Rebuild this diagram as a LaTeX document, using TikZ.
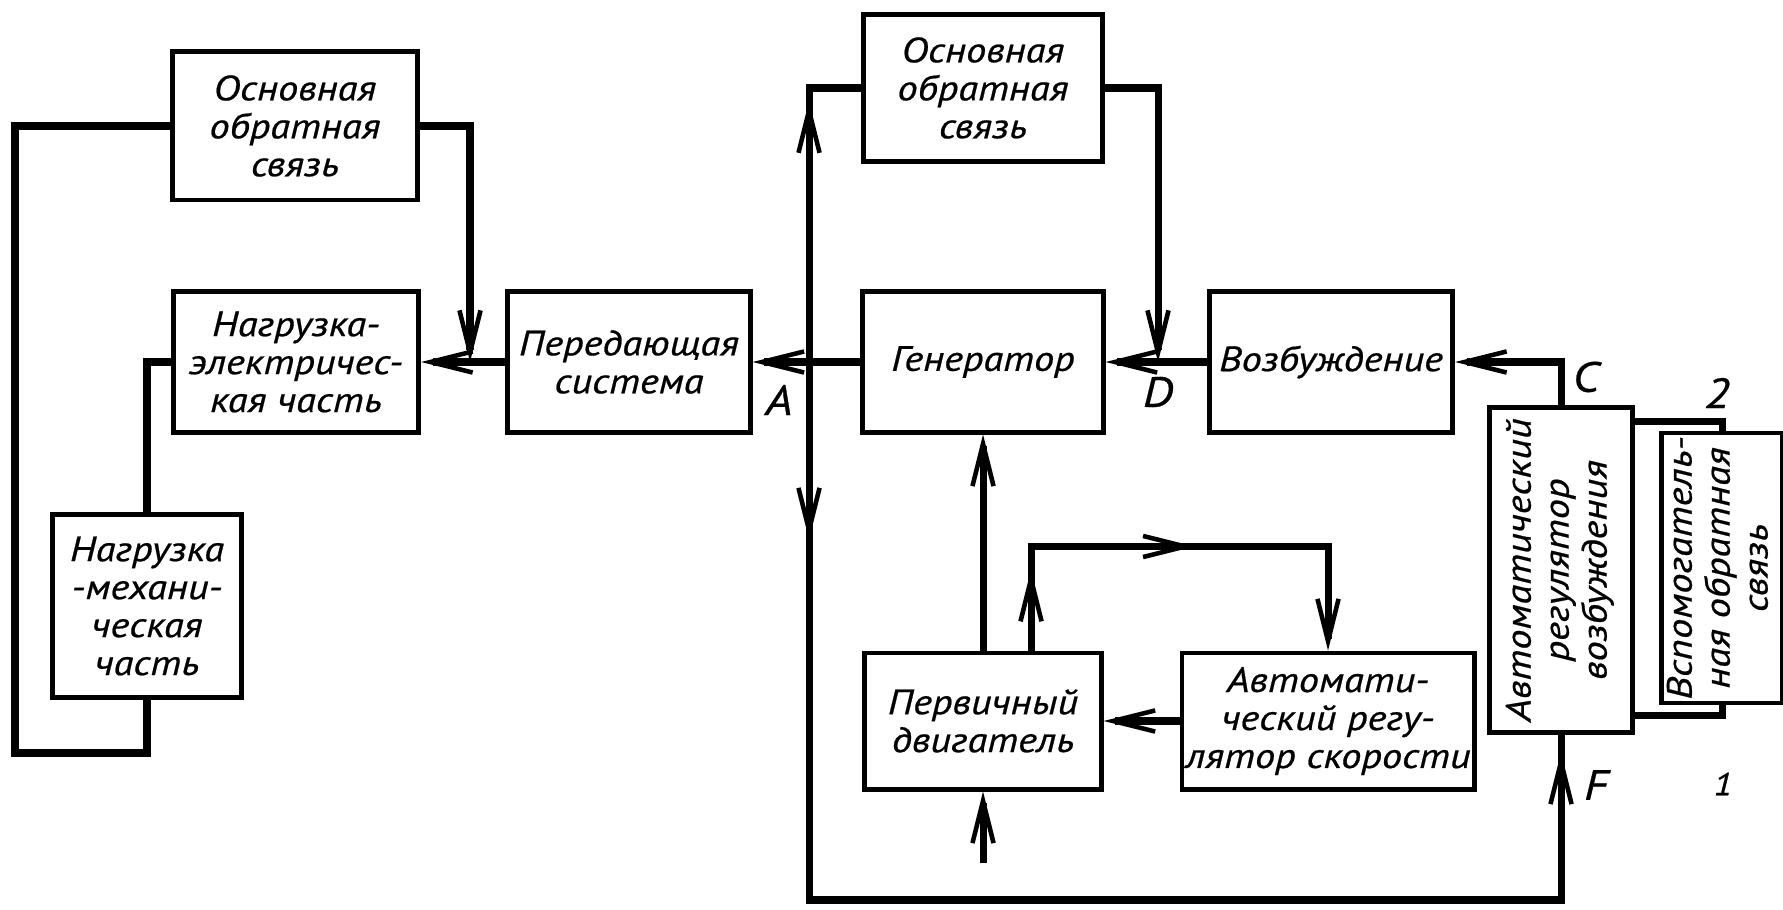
\documentclass[tikz,border=0pt]{standalone}
\usepackage{fontspec}
\usepackage{graphicx}
\newfontfamily\gost{PT Sans}[FakeStretch=1.15,FakeBold=0.6]
\usetikzlibrary{arrows.meta,decorations.markings}
\begin{document}
\begin{tikzpicture}[x=0.01cm,y=-0.01cm,
  >={Straight Barb[length=12pt,width=6pt,line width=1.3pt]},
  block/.style={draw,line width=1.4pt,align=center,inner sep=1pt,
    font=\gost\itshape\fontsize{10}{10.8}\selectfont},
  conn/.style={line width=2pt},
  lab/.style={font=\gost\itshape\fontsize{12}{12}\selectfont},
  midarrow/.style={postaction={decorate,decoration={markings,
    mark=at position #1 with {\arrow{>}}}}}]
\useasboundingbox (0,0) rectangle (1783,910);
% Draw the blocks of the left part
\node[block,minimum width=2.44cm,minimum height=1.48cm] (obsL) at (295,126) {Основная\\обратная\\связь};
\node[block,minimum width=2.45cm,minimum height=1.40cm] (elec) at (296,362) {Нагрузка-\\электричес-\\кая часть};
\node[block,minimum width=1.88cm,minimum height=1.82cm] (mech) at (147,606) {Нагрузка\\-механи-\\ческая\\часть};
\node[block,minimum width=2.42cm,minimum height=1.40cm] (pered) at (629,362) {Передающая\\система};
% Draw the blocks round the generator
\node[block,minimum width=2.39cm,minimum height=1.47cm] (obsR) at (983,88) {Основная\\обратная\\связь};
\node[block,minimum width=2.40cm,minimum height=1.40cm] (gen) at (983,362) {Генератор};
\node[block,minimum width=2.43cm,minimum height=1.40cm] (vozb) at (1331,362) {Возбуждение};
\node[block,minimum width=2.36cm,minimum height=1.36cm] (perv) at (983,721) {Первичный\\двигатель};
\node[block,minimum width=2.53cm,minimum height=1.36cm] (ars) at (1328,721) {Автомати-\\ческий регу-\\лятор скорости};
% The two upright blocks on the right
\node[block,minimum width=1.43cm,minimum height=3.25cm] (arv) at (1561,570)
  {\rotatebox{90}{\begin{tabular}{@{}c@{}}Автоматический\\регулятор\\возбуждения\end{tabular}}};
\node[block,minimum width=1.13cm,minimum height=2.40cm] (vsp) at (1722,568)
  {\rotatebox{90}{\begin{tabular}{@{}c@{}}Вспомогатель-\\ная обратная\\связь\end{tabular}}};
% Junction points
\coordinate (jL) at (470,362);
\coordinate (A) at (809,362);
\coordinate (D) at (1158,362);
\coordinate (pin) at (983,863);
% Left loop
\draw[conn] (obsL.west) -| (15,753) -| (mech.south);
\draw[conn] (elec.west) -| (mech.north);
\draw[conn,->] (obsL.east) -| (jL);
\draw[conn,->] (pered.west) -- (elec.east);
% Main chain
\draw[conn,->] (gen.west) -- (pered.east);
\draw[conn,->] (vozb.west) -- (gen.east);
\draw[conn,->] (obsR.east) -| (D);
\draw[conn,midarrow=0.8] (A) |- (obsR.west);
\draw[conn,midarrow=0.122,midarrow=0.988] (A) -- (A |- 0,900) -| (arv.south);
% Prime mover and speed regulator
\draw[conn,->] (perv.north) -- (gen.south);
\draw[conn,->,midarrow=0.16,midarrow=0.53] ([xshift=0.48cm]perv.north) -- ++(0,-104) -| (ars.north);
\draw[conn,->] (ars.west) -- (perv.east);
\draw[conn,->] (pin) -- (perv.south);
% Excitation regulator
\draw[conn,->] (arv.north) |- (vozb.east);
\draw[conn] ([yshift=-0.17cm]arv.north east) -| (vsp.north);
\draw[conn] ([yshift=0.2cm]arv.south east) -| (vsp.south);
% Letters at the points
\foreach \t/\x/\y in {A/779/400,D/1158/392,C/1586/377,2/1717/393,F/1596/785}
  \node[lab] (l\t) at (\x,\y) {\t};
\node[lab,font=\gost\itshape\fontsize{9}{9}\selectfont] (l1) at (1723,784) {1};
\end{tikzpicture}
\end{document}
